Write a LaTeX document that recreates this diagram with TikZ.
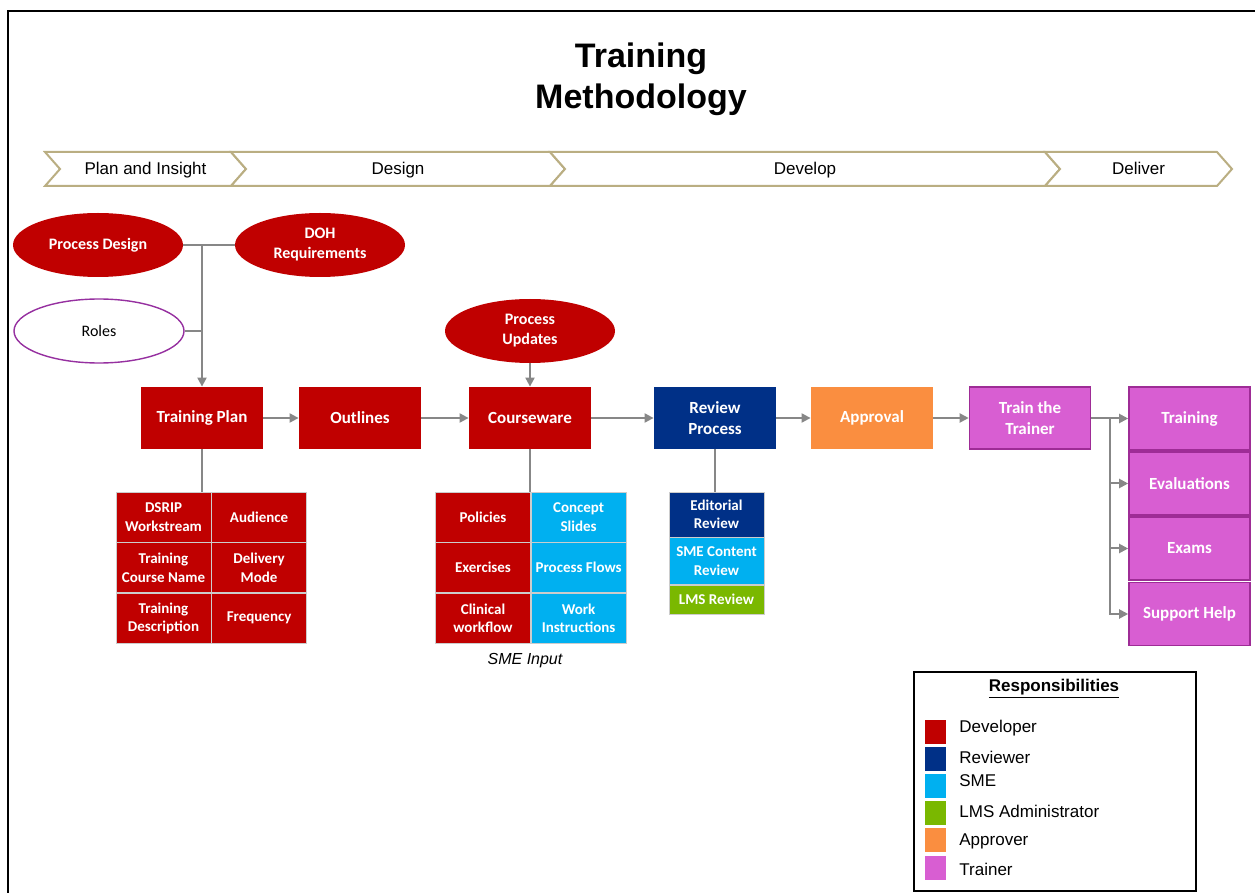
\documentclass[tikz,border=0pt]{standalone}
\usepackage{fontspec}
\setmainfont{Liberation Sans}
\newfontfamily\boxfont{Carlito}
\usepackage{tikz}
\usetikzlibrary{arrows.meta,positioning,shapes.geometric}

\definecolor{devRed}{RGB}{192,0,0}
\definecolor{reviewBlue}{RGB}{0,48,135}
\definecolor{smeBlue}{RGB}{0,176,240}
\definecolor{lmsGreen}{RGB}{122,184,0}
\definecolor{approveOrange}{RGB}{250,142,64}
\definecolor{trainerPink}{RGB}{216,94,210}
\definecolor{trainerEdge}{RGB}{158,44,150}
\definecolor{rolesPurple}{RGB}{150,48,160}
\definecolor{linkGray}{RGB}{135,135,135}
\definecolor{phaseTan}{RGB}{186,174,130}

\begin{document}
\begin{tikzpicture}[x=0.5pt,y=-0.5pt]
		\tikzstyle{oval} = [ellipse, minimum width=85pt, minimum height=32pt, inner sep=0pt,
		align=center, fill=devRed, text=white, font=\boxfont\bfseries\fontsize{8}{10}\selectfont]
		\tikzstyle{process} = [rectangle, minimum width=61pt, minimum height=31pt, inner sep=1pt,
		align=center, text=white, font=\boxfont\bfseries\fontsize{8.5}{10.5}\selectfont]
		\tikzstyle{delivery} = [process, minimum width=60.5pt, minimum height=31.5pt,
		fill=trainerPink, draw=trainerEdge, line width=0.8pt]
		\tikzstyle{cell} = [rectangle, minimum width=47.5pt, minimum height=25pt, inner sep=1pt,
		align=center, text=white, draw=black!20, line width=0.3pt,
		font=\boxfont\bfseries\fontsize{7.5}{9.2}\selectfont]
		\tikzstyle{swatch} = [rectangle, minimum width=10.5pt, minimum height=12pt, inner sep=0pt]
		\tikzstyle{joint} = [draw=linkGray, line width=1pt]
		\tikzstyle{arrow} = [joint, -{Triangle[length=4.5pt,width=4.5pt]}]
		\useasboundingbox (0,0) rectangle (1255,893);
		% frame
		\draw [line width=1pt] (8,893) -- (8,11) -- (1255,11);
		% title
		\node (title) at (641,79) [align=center, font=\bfseries\fontsize{17}{20.5}\selectfont]
		{Training\\Methodology};
		% phase bar
		\foreach \l/\r/\phase in {45/246/Plan and Insight, 231/565/Design, 550/1060/Develop, 1045/1232/Deliver} {
			\draw [draw=phaseTan, line width=1pt, fill=white]
			(\l,152) -- (\r-15,152) -- (\r,169) -- (\r-15,186) -- (\l,186) -- (\l+15,169) -- cycle;
			\node [anchor=base, inner sep=0pt, font=\fontsize{8.5}{10}\selectfont] at ({(\l+\r)/2},175) {\phase};
		}
		% inputs
		\node (processDesign) [oval] at (98,245) {Process Design};
		\node (doh) [oval] at (320,245) {DOH\\Requirements};
		\node (roles) [oval, fill=white, draw=rolesPurple, line width=0.7pt, text=black,
		font=\boxfont\fontsize{8}{10}\selectfont] at (99,331) {Roles};
		\node (processUpdates) [oval] at (530,331) {Process\\Updates};
		% main flow
		\node (trainingPlan) [process, fill=devRed] at (202,418) {Training Plan};
		\node (outlines) [process, fill=devRed] at (360,418) {Outlines};
		\node (courseware) [process, fill=devRed] at (530,418) {Courseware};
		\node (reviewProcess) [process, fill=reviewBlue] at (715,418) {Review\\Process};
		\node (approval) [process, fill=approveOrange] at (872,418) {Approval};
		\node (trainTrainer) [process, minimum width=60.5pt, fill=trainerPink, draw=trainerEdge,
		line width=0.8pt] at (1030,418) {Train the\\Trainer};
		% delivery column
		\node (training) [delivery] at (1189.5,418.5) {Training};
		\node (evaluations) [delivery] at (1189.5,483.5) {Evaluations};
		\node (exams) [delivery] at (1189.5,548.5) {Exams};
		\node (supportHelp) [delivery] at (1189.5,614) {Support Help};
		% training plan details
		\node (dsrip) [cell, fill=devRed] at (163.5,517) {DSRIP\\Workstream};
		\node (audience) [cell, fill=devRed, right=0pt of dsrip] {Audience};
		\node (courseName) [cell, fill=devRed, below=0pt of dsrip] {Training\\Course Name};
		\node (deliveryMode) [cell, fill=devRed, right=0pt of courseName] {Delivery\\Mode};
		\node (description) [cell, fill=devRed, below=0pt of courseName] {Training\\Description};
		\node (frequency) [cell, fill=devRed, right=0pt of description] {Frequency};
		% courseware details
		\node (policies) [cell, fill=devRed] at (483,517) {Policies};
		\node (conceptSlides) [cell, fill=smeBlue, right=0pt of policies] {Concept\\Slides};
		\node (exercises) [cell, fill=devRed, below=0pt of policies] {Exercises};
		\node (processFlows) [cell, fill=smeBlue, right=0pt of exercises] {Process Flows};
		\node (clinical) [cell, fill=devRed, below=0pt of exercises] {Clinical\\workflow};
		\node (workInstr) [cell, fill=smeBlue, right=0pt of clinical] {Work\\Instructions};
		\node (smeInput) at (525,661) [font=\itshape\fontsize{8}{10}\selectfont] {SME Input};
		% review steps
		\node (editorial) [cell, fill=reviewBlue, minimum height=22.5pt] at (716.5,514.5) {Editorial\\Review};
		\node (smeContent) [cell, fill=smeBlue, minimum height=23.5pt, below=0pt of editorial]
		{SME Content\\Review};
		\node (lmsReview) [cell, fill=lmsGreen, minimum height=14.5pt, below=0pt of smeContent]
		{LMS Review};
		% connectors
		\coordinate (inputJoin) at (processDesign -| trainingPlan);
		\coordinate (fork) at (1110,418);
		\draw [joint] (processDesign) -- (doh);
		\draw [joint] (roles) -- (roles -| trainingPlan);
		\draw [arrow] (inputJoin) -- (trainingPlan);
		\draw [arrow] (processUpdates) -- (courseware);
		\draw [arrow] (trainingPlan) -- (outlines);
		\draw [arrow] (outlines) -- (courseware);
		\draw [arrow] (courseware) -- (reviewProcess);
		\draw [arrow] (reviewProcess) -- (approval);
		\draw [arrow] (approval) -- (trainTrainer);
		\draw [joint] (trainTrainer) -- (fork);
		\foreach \n in {training, evaluations, exams, supportHelp}
			\draw [arrow] (fork) |- (\n);
		\draw [joint] (trainingPlan) -- (trainingPlan |- dsrip.north);
		\draw [joint] (courseware) -- (courseware |- policies.north);
		\draw [joint] (reviewProcess) -- (reviewProcess |- editorial.north);
		% legend
		\node (legend) [draw, line width=1pt, minimum width=141pt, minimum height=109.5pt, inner sep=0pt]
		at (1055,781.5) {};
		\node (legendTitle) at (1054,689) [font=\bfseries\fontsize{8.5}{10}\selectfont]
		{\underline{Responsibilities}};
		\foreach \y/\ty/\c/\role in {732/728/devRed/Developer, 759/757/reviewBlue/Reviewer,
			786/781/smeBlue/SME, 813/811/lmsGreen/LMS Administrator,
			840/841/approveOrange/Approver, 868/869/trainerPink/Trainer} {
			\node [swatch, fill=\c] at (935.5,\y) {};
			\node [anchor=west, inner sep=0pt, font=\fontsize{8.5}{10}\selectfont] at (959,\ty) {\role};
		}
\end{tikzpicture}
\end{document}
